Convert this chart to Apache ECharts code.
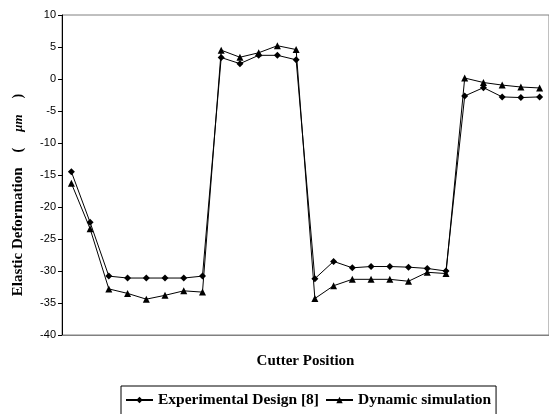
<!DOCTYPE html>
<html>
<head>
<meta charset="utf-8">
<script src="https://cdn.jsdelivr.net/npm/echarts@6/dist/echarts.min.js"></script>
<style>
  html, body { margin: 0; padding: 0; background: #fff; }
  #chart { width: 549px; height: 414px; }
</style>
</head>
<body>
<div id="chart"></div>
<script>
// cutter positions 1..26 (no tick labels shown on the x axis)
var positions = ['1','2','3','4','5','6','7','8','9','10','11','12','13',
                 '14','15','16','17','18','19','20','21','22','23','24','25','26'];

var experimental = [-14.5, -22.4, -30.8, -31.1, -31.1, -31.1, -31.1, -30.8,
                    3.35, 2.4, 3.7, 3.7, 3.0,
                    -31.2, -28.5, -29.5, -29.3, -29.3, -29.4, -29.6, -30.0,
                    -2.65, -1.35, -2.8, -2.9, -2.8];

var simulation = [-16.3, -23.4, -32.8, -33.5, -34.4, -33.8, -33.1, -33.3,
                  4.5, 3.4, 4.1, 5.2, 4.6,
                  -34.3, -32.3, -31.3, -31.3, -31.3, -31.6, -30.2, -30.4,
                  0.15, -0.55, -0.95, -1.25, -1.4];

var serif = 'Liberation Serif';

var myChart = echarts.init(document.getElementById('chart'));
myChart.setOption({
    backgroundColor: '#fff',
    animation: false,
    grid: {
        left: 62,
        right: -1,
        top: 15,
        bottom: 79,
        show: true,
        borderColor: '#808080',
        borderWidth: 1
    },
    legend: {
        top: 386,
        left: 121,
        itemWidth: 27,
        itemHeight: 8,
        itemGap: 6,
        padding: [6, 5, 8, 4],
        borderColor: '#000',
        borderWidth: 1,
        textStyle: {
            fontFamily: serif,
            fontWeight: 'bold',
            fontSize: 15.5,
            color: '#000'
        },
        data: ['Experimental Design [8]', 'Dynamic simulation']
    },
    xAxis: {
        type: 'category',
        data: positions,
        name: 'Cutter Position',
        nameLocation: 'middle',
        nameGap: 19,
        nameTextStyle: {
            fontFamily: serif,
            fontWeight: 'bold',
            fontSize: 15,
            color: '#000'
        },
        axisLine: { onZero: false, lineStyle: { color: '#808080' } },
        axisTick: { show: false },
        axisLabel: { show: false },
        splitLine: { show: false }
    },
    yAxis: {
        type: 'value',
        min: -40,
        max: 10,
        interval: 5,
        name: 'Elastic Deformation{g|}{p|(}{g2|}{i|μm}{g2|}{p|)}',
        nameLocation: 'middle',
        nameGap: 36,
        nameTextStyle: {
            fontFamily: serif,
            fontWeight: 'bold',
            fontSize: 15,
            color: '#000',
            padding: [0, 0, 0, -40],
            rich: {
                g: { width: 15 },
                g2: { width: 16 },
                p: { fontFamily: serif, fontSize: 14, color: '#000' },
                i: { fontFamily: serif, fontStyle: 'italic', fontSize: 13, color: '#000' }
            }
        },
        axisLine: { show: true, lineStyle: { color: '#000' } },
        axisTick: { show: true, length: 4, lineStyle: { color: '#000' } },
        axisLabel: {
            fontFamily: 'Liberation Sans',
            fontSize: 11,
            color: '#000',
            margin: 6
        },
        splitLine: { show: false }
    },
    series: [{
        name: 'Experimental Design [8]',
        type: 'line',
        data: experimental,
        symbol: 'diamond',
        symbolSize: 7,
        itemStyle: { color: '#000' },
        lineStyle: { color: '#000', width: 1 }
    }, {
        name: 'Dynamic simulation',
        type: 'line',
        data: simulation,
        symbol: 'triangle',
        symbolSize: 7,
        itemStyle: { color: '#000' },
        lineStyle: { color: '#000', width: 1 }
    }]
});
</script>
</body>
</html>
